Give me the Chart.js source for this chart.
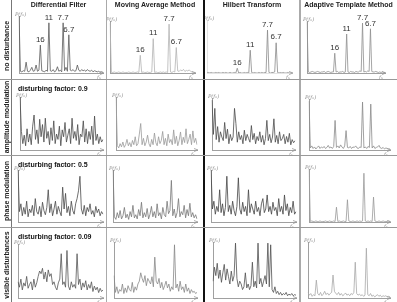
<!DOCTYPE html>
<html>
<head>
<meta charset="utf-8">
<script src="https://cdn.jsdelivr.net/npm/chart.js@4.4.1/dist/chart.umd.min.js"></script>
<style>
  html, body { margin: 0; padding: 0; background: #fff; }
  #sheet { position: relative; width: 397px; height: 302px; overflow: hidden; font-family: "Liberation Sans", Arial, sans-serif; }
  .cell { position: absolute; }
  .rule { position: absolute; }
  .head { position: absolute; top: 1px; font-size: 7px; font-weight: bold; color: #222; text-align: center; white-space: nowrap; }
  .rowname { position: absolute; font-size: 7px; font-weight: bold; color: #222; white-space: nowrap; transform: translate(-50%, -50%) rotate(-90deg); }
  .factor { position: absolute; left: 18px; font-size: 7px; font-weight: bold; color: #111; white-space: nowrap; }
</style>
</head>
<body>
<div id="sheet"></div>
<script>
const methods = ['Differential Filter', 'Moving Average Method', 'Hilbert Transform', 'Adaptive Template Method'];
const disturbances = ['no disturbance', 'amplitude modulation', 'phase modulation', 'visible disturbances'];
const factors = ['', 'disturbing factor: 0.9', 'disturbing factor: 0.5', 'disturbing factor: 0.09'];
const peakNames = ['16', '11', '7.7', '6.7'];

// no disturbance
const diffNone = [100,3,2,4,3,19,3,2,5,10, 3,4,14,3,5,49,4,3,2,5, 3,88,4,3,6,2,4,11,3,5, 2,88,4,10,3,67,5,4,6,3, 4,14,5,3,6,4,5,3,6,4, 3,5,2,4,3,2,3,1,2,1];
const avgNone = [96,1,1,2,1,1,2,1,1,2, 1,1,1,2,1,1,2,1,1,2, 1,34,1,2,1,1,2,1,1,2, 66,1,2,1,1,2,1,2,1,2, 1,94,2,1,3,2,49,4,3,6, 4,7,3,5,4,6,3,2,1,1];
const hilbertNone = [0,1,0,1,0,0,1,0,1,0, 0,1,0,1,0,0,1,0,0,1, 0,9,0,1,0,0,1,0,1,0, 43,1,0,1,0,0,1,0,1,0, 1,1,81,1,0,1,1,2,57,1, 0,1,0,1,0,0,1,0,0,0];
const templateNone = [98,2,1,2,3,2,1,2,3,2, 1,2,2,3,1,2,3,2,1,2, 2,38,2,3,1,2,2,3,1,2, 75,2,1,3,2,2,1,3,2,2, 4,3,96,2,3,2,4,3,85,3, 2,2,3,2,1,2,1,2,1,1];
const peakIndex = [[15,21,31,35], [21,30,41,46], [21,30,42,48], [21,30,42,48]];

// amplitude modulation
const diffAmp = [100,35,12,28,8,40,15,30,10,45, 66,20,38,12,58,25,48,15,60,22, 35,10,42,18,55,12,30,20,45,8, 38,25,52,15,28,40,12,60,22,35, 18,48,10,30,25,55,15,40,12,35, 20,45,10,64,18,30,12,25,15,20];
const avgAmp = [100,8,4,12,6,15,5,10,20,8, 14,6,18,10,25,8,12,30,50,10, 22,8,15,28,12,6,20,10,32,14, 8,25,12,18,35,10,22,8,30,14, 20,10,38,12,26,8,18,34,10,24, 14,40,12,20,30,10,36,14,22,10];
const hilbertAmp = [96,30,80,20,45,15,35,25,18,53, 22,40,12,30,18,25,80,51,15,35, 20,28,12,38,18,30,22,15,47,20, 32,12,26,18,35,15,28,10,22,57, 18,30,14,25,60,15,28,12,35,18, 22,30,12,26,15,32,10,20,14,18];
const templateAmp = [96,4,8,3,6,2,5,8,3,6, 4,7,3,5,9,4,6,3,7,58, 5,8,4,10,6,3,8,38,5,4, 7,3,6,5,8,4,3,6,5,94, 4,6,3,7,5,90,4,8,3,5, 6,9,4,3,5,2,4,3,2,2];

// phase modulation
const diffPhase = [100,20,35,12,28,15,40,10,25,18, 32,12,45,20,15,30,10,38,22,14, 28,62,18,35,12,25,40,15,30,20, 12,67,25,55,18,30,12,40,22,15, 35,45,60,88,25,15,32,12,28,20, 35,15,22,10,30,18,25,12,20,15];
const avgPhase = [100,10,5,18,8,22,6,12,28,8, 15,5,20,10,32,8,14,6,24,12, 38,8,18,10,26,6,15,30,10,20, 8,35,12,18,6,28,14,10,40,16, 22,80,12,25,8,18,45,10,20,14, 32,8,24,12,36,10,18,8,14,6];
const hilbertPhase = [100,25,40,15,30,20,62,18,35,12, 28,88,20,32,15,40,22,12,30,85, 25,15,38,20,30,12,62,18,35,25, 15,40,20,28,12,35,45,18,25,52, 20,30,15,38,22,28,12,45,20,30, 15,52,22,35,12,28,18,40,15,20];
const templatePhase = [100,1,2,1,1,2,1,1,2,1, 1,1,2,1,1,2,1,1,2,1, 28,1,2,1,1,2,1,1,42,2, 1,1,2,1,1,2,1,2,1,2, 92,2,1,2,1,2,1,47,2,1, 1,2,1,1,2,1,1,1,2,1];

// visible disturbances
const diffVisible = [30,20,35,15,28,22,40,18,25,30, 15,35,20,28,40,50,45,55,35,48, 30,52,40,45,25,30,20,15,28,35, 82,25,30,20,88,22,15,30,20,25, 18,82,25,35,15,28,20,32,15,25, 18,30,12,22,15,20,10,18,12,15];
const avgVisible = [40,10,20,8,15,12,25,8,18,10, 22,15,12,28,10,20,14,25,30,45, 35,28,40,22,35,30,25,38,20,73, 30,25,35,18,28,15,22,30,18,25, 12,20,15,95,18,25,12,30,15,20, 10,25,12,18,8,15,10,12,8,10];
const hilbertVisible = [30,55,40,62,35,50,28,45,60,32, 52,38,25,48,30,40,98,35,20,30, 25,15,20,45,18,25,15,22,64,20, 30,18,98,25,35,20,30,40,25,98, 20,95,15,10,20,8,12,6,10,5, 8,6,10,4,7,5,8,4,6,5];
const templateVisible = [10,5,8,3,6,4,32,8,5,10, 4,7,12,6,9,5,8,10,41,12, 8,6,10,5,8,4,6,9,5,7, 4,8,6,10,64,8,5,7,4,6, 3,5,89,6,4,8,3,5,2,4, 6,3,5,2,4,3,4,2,3,2];

const panels = [
  [diffNone, avgNone, hilbertNone, templateNone],
  [diffAmp, avgAmp, hilbertAmp, templateAmp],
  [diffPhase, avgPhase, hilbertPhase, templatePhase],
  [diffVisible, avgVisible, hilbertVisible, templateVisible]
];

// layout of the sheet
const colEdges = [[11, 106], [106, 204], [204, 300], [300, 397]];
const rowEdges = [[12, 79], [79, 155], [155, 227], [227, 302]];
// plot box per panel: y-axis x, right end, top, x-axis y
const boxes = [
  [[19, 103, 16, 73], [110, 195, 21, 73], [207, 292, 20, 73], [307, 385, 21, 73]],
  [[20, 103, 97, 150], [116, 197, 97, 150], [212, 295, 98, 150], [309, 390, 99, 150]],
  [[18, 103, 170, 222], [113, 197, 170, 222], [211, 296, 170, 222], [309, 390, 169, 222]],
  [[18, 103, 244, 298], [114, 197, 242, 298], [213, 296, 242, 298], [308, 390, 242, 298]]
];
const lineColors = [
  ['#5a5a5a', '#b4b4b4', '#8a8a8a', '#8f8f8f'],
  ['#4a4a4a', '#9a9a9a', '#4a4a4a', '#8a8a8a'],
  ['#4a4a4a', '#777777', '#444444', '#999999'],
  ['#555555', '#888888', '#505050', '#a8a8a8']
];

const sheet = document.getElementById('sheet');

function addRule(left, top, width, height, color) {
  const r = document.createElement('div');
  r.className = 'rule';
  r.style.cssText = `left:${left}px;top:${top}px;width:${width}px;height:${height}px;background:${color}`;
  sheet.appendChild(r);
}

addRule(11, 0, 1, 302, '#777');
addRule(106, 0, 1, 302, '#aaa');
addRule(203, 0, 2, 302, '#111');
addRule(299, 0, 2, 302, '#aaa');
[79, 155, 227].forEach((y) => addRule(0, y, 397, 1, '#999'));

methods.forEach((name, c) => {
  const h = document.createElement('div');
  h.className = 'head';
  h.style.left = colEdges[c][0] + 'px';
  h.style.width = (colEdges[c][1] - colEdges[c][0]) + 'px';
  h.textContent = name;
  sheet.appendChild(h);
});

disturbances.forEach((name, r) => {
  const t = document.createElement('div');
  t.className = 'rowname';
  t.style.left = '5.5px';
  t.style.top = ((rowEdges[r][0] + rowEdges[r][1]) / 2) + 'px';
  t.textContent = name;
  sheet.appendChild(t);
  if (factors[r]) {
    const f = document.createElement('div');
    f.className = 'factor';
    f.style.top = (rowEdges[r][0] + 6) + 'px';
    f.textContent = factors[r];
    sheet.appendChild(f);
  }
});

const panelDecor = {
  id: 'panelDecor',
  afterDatasetsDraw(chart, args, opts) {
    const { ctx, chartArea: a, scales: { x, y } } = chart;
    const data = chart.data.datasets[0].data;
    ctx.save();
    ctx.strokeStyle = '#999';
    ctx.lineWidth = 0.8;
    ctx.beginPath();
    ctx.moveTo(a.right - 3, a.bottom - 1.5);
    ctx.lineTo(a.right + 1, a.bottom);
    ctx.lineTo(a.right - 3, a.bottom + 1.5);
    ctx.stroke();

    ctx.fillStyle = '#8a8a8a';
    ctx.font = 'italic 5px "DejaVu Serif", serif';
    ctx.textBaseline = 'bottom';
    ctx.textAlign = 'left';
    ctx.fillText('P(fₙ)', a.left - 4, a.top + 1);
    ctx.textBaseline = 'top';
    ctx.fillText('fₙ', a.right - 6, a.bottom + 2);

    (opts.peaks || []).forEach((i, k) => {
      ctx.fillStyle = '#333';
      ctx.font = '8px "Liberation Sans", Arial, sans-serif';
      ctx.textAlign = 'center';
      ctx.textBaseline = 'bottom';
      ctx.fillText(peakNames[k], x.getPixelForValue(i), y.getPixelForValue(data[i]) - 1.5);
    });
    ctx.restore();
  }
};

function makePanel(r, c) {
  const [cl, cr] = colEdges[c];
  const [rt, rb] = rowEdges[r];
  const [ax, ar, at, ab] = boxes[r][c];
  const holder = document.createElement('div');
  holder.className = 'cell';
  holder.style.cssText = `left:${cl}px;top:${rt}px;width:${cr - cl}px;height:${rb - rt}px`;
  const canvas = document.createElement('canvas');
  holder.appendChild(canvas);
  sheet.insertBefore(holder, sheet.firstChild);

  const values = panels[r][c];
  const axisColor = (r === 0 && c === 2) ? '#e4e4e4' : '#a0a0a0';
  new Chart(canvas, {
    type: 'line',
    data: {
      labels: values.map((v, i) => i),
      datasets: [{
        data: values,
        borderColor: lineColors[r][c],
        borderWidth: 0.8,
        pointRadius: 0,
        tension: 0,
        fill: false
      }]
    },
    options: {
      responsive: true,
      maintainAspectRatio: false,
      animation: false,
      events: [],
      layout: { padding: { left: ax - cl, right: cr - ar, top: at - rt, bottom: rb - ab } },
      plugins: {
        legend: { display: false },
        tooltip: { enabled: false },
        panelDecor: { peaks: r === 0 ? peakIndex[c] : [] }
      },
      scales: {
        x: {
          ticks: { display: false },
          grid: { display: false, drawTicks: false },
          border: { display: true, color: axisColor, width: 1 }
        },
        y: {
          min: 0,
          max: 100,
          ticks: { display: false },
          grid: { display: false, drawTicks: false },
          border: { display: true, color: axisColor, width: 1 }
        }
      }
    },
    plugins: [panelDecor]
  });
}

for (let r = 0; r < 4; r++) {
  for (let c = 0; c < 4; c++) {
    makePanel(r, c);
  }
}
</script>
</body>
</html>
